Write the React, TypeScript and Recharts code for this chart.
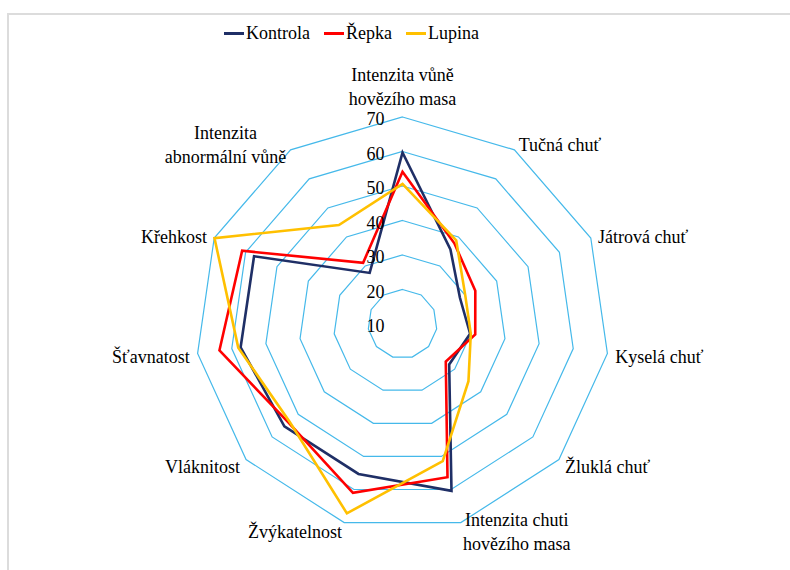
import { RadarChart, Radar, PolarGrid, PolarAngleAxis, PolarRadiusAxis, Legend } from "recharts";

// sensory attributes, clockwise from the top
const categories = [
  "Intenzita vůně\nhovězího masa",
  "Tučná chuť",
  "Játrová chuť",
  "Kyselá chuť",
  "Žluklá chuť",
  "Intenzita chuti\nhovězího masa",
  "Žvýkatelnost",
  "Vláknitost",
  "Šťavnatost",
  "Křehkost",
  "Intenzita\nabnormální vůně",
];

const kontrola = [59.7, 35.7, 28.3, 29.8, 27.9, 60.4, 55.3, 55.3, 57.4, 57.3, 27.6];
const repka = [54.1, 37.8, 33.2, 31.3, 26.6, 56.3, 61.0, 53.7, 63.6, 61.1, 31.1];
const lupina = [50.6, 38.8, 30.0, 30.0, 35.3, 51.4, 67.2, 53.3, 58.1, 69.9, 44.1];

const radiusTicks = [10, 20, 30, 40, 50, 60, 70];

const series = [
  { key: "kontrola", name: "Kontrola", color: "#1F2F66" },
  { key: "repka", name: "Řepka", color: "#FF0000" },
  { key: "lupina", name: "Lupina", color: "#FFC000" },
];

const data = categories.map((category, i) => ({
  category,
  kontrola: kontrola[i],
  repka: repka[i],
  lupina: lupina[i],
}));

const FONT = "Liberation Serif, DejaVu Serif, serif";
const FONT_SIZE = 18;
const LINE_H = 24;

let measureCtx: CanvasRenderingContext2D | null = null;
function textWidth(s: string) {
  if (!measureCtx) measureCtx = document.createElement("canvas").getContext("2d");
  if (!measureCtx) return s.length * FONT_SIZE * 0.45;
  measureCtx.font = `${FONT_SIZE}px ${FONT}`;
  return measureCtx.measureText(s).width;
}

function AngleTick(props: any) {
  const { x, y, payload } = props;
  const lines = String(payload.value).split("\n");
  const rad = (payload.coordinate * Math.PI) / 180;
  const cos = Math.cos(rad);
  const sin = Math.sin(rad);
  const blockW = Math.max(...lines.map(textWidth));
  let midX = x;
  if (cos > 0.1) midX = x + blockW / 2;
  else if (cos < -0.1) midX = x - blockW / 2;
  const firstY =
    sin > 0.9 ? y - 10 - (lines.length - 1) * LINE_H : y + 2 - ((lines.length - 1) * LINE_H) / 2;
  return (
    <text textAnchor="middle" style={{ fontFamily: FONT, fontSize: FONT_SIZE }} fill="#000">
      {lines.map((line, i) => (
        <tspan key={i} x={midX} y={firstY + i * LINE_H} dominantBaseline="central">
          {line}
        </tspan>
      ))}
    </text>
  );
}

function RadiusTick({ x, y, payload }: any) {
  return (
    <text
      x={x - 18}
      y={y + 2}
      textAnchor="end"
      dominantBaseline="central"
      style={{ fontFamily: FONT, fontSize: FONT_SIZE }}
      fill="#000"
    >
      {payload.value}
    </text>
  );
}

function LegendContent() {
  return (
    <div style={{ display: "flex", alignItems: "center", fontFamily: FONT, fontSize: FONT_SIZE }}>
      {series.map((s) => (
        <div key={s.key} style={{ display: "flex", alignItems: "center", marginRight: 14 }}>
          <span style={{ display: "inline-block", width: 20, height: 3, background: s.color, marginRight: 2 }} />
          <span>{s.name}</span>
        </div>
      ))}
    </div>
  );
}

export default function App() {
  return (
    <div
      style={{
        position: "absolute",
        left: 0,
        top: 0,
        width: 790,
        height: 570,
        background: "#fff",
        fontFamily: FONT,
      }}
    >
      <div
        style={{
          position: "absolute",
          left: 7,
          top: 13,
          width: 783,
          height: 557,
          borderTop: "2px solid #DCDCDC",
          borderLeft: "2px solid #DCDCDC",
        }}
      />
      <RadarChart
        width={790}
        height={570}
        data={data}
        cx={402.5}
        cy={324}
        outerRadius={207}
        style={{ position: "absolute", left: 0, top: 0 }}
      >
        <PolarGrid gridType="polygon" radialLines={false} stroke="#45B9EA" strokeWidth={1.2} />
        <PolarAngleAxis dataKey="category" tick={AngleTick} tickLine={false} axisLine={false} />
        <PolarRadiusAxis
          angle={90}
          domain={[10, 70]}
          ticks={radiusTicks as any}
          tickCount={7}
          axisLine={false}
          tickLine={false}
          tick={RadiusTick}
        />
        {series.map((s) => (
          <Radar
            key={s.key}
            name={s.name}
            dataKey={s.key}
            stroke={s.color}
            strokeWidth={2.6}
            fill="none"
            fillOpacity={0}
            dot={false}
            isAnimationActive={false}
          />
        ))}
        <Legend
          verticalAlign="top"
          align="left"
          content={LegendContent}
          wrapperStyle={{ top: 23, left: 224, width: 320 }}
        />
      </RadarChart>
    </div>
  );
}
